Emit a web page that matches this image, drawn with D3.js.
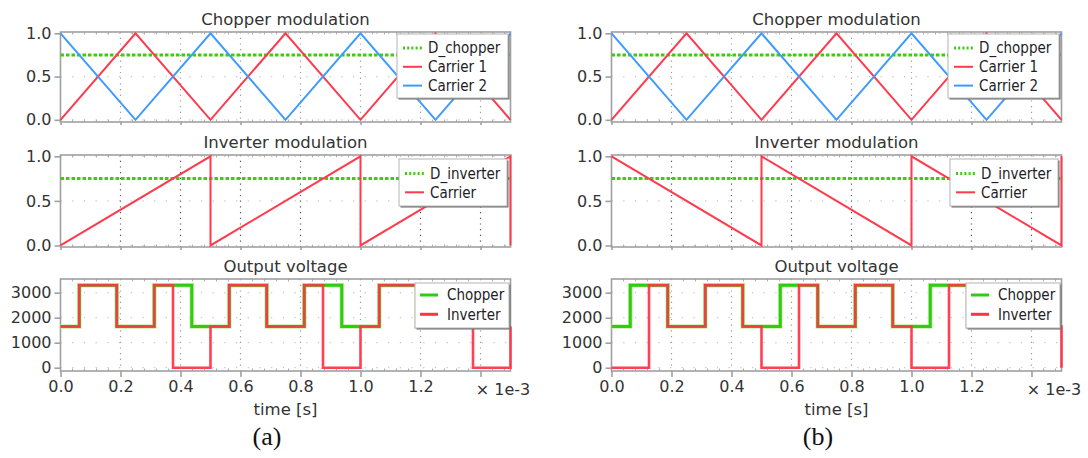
<!DOCTYPE html>
<html><head><meta charset="utf-8">
<script src="https://cdn.jsdelivr.net/npm/d3@7"></script>
<style>
body{margin:0;background:#fff;}
svg{display:block;font-family:'DejaVu Sans',sans-serif;}
</style></head><body>
<svg id="chart" width="1088" height="458"></svg>
<script>
// ---- axis ticks (time in units of 1e-3 s) ----
const timeTicks = [0, 0.2, 0.4, 0.6, 0.8, 1.0, 1.2, 1.4];
const timeTickLabels = ["0.0", "0.2", "0.4", "0.6", "0.8", "1.0", "1.2", ""];
const modTicks = [0, 0.5, 1.0];
const modTickLabels = ["0.0", "0.5", "1.0"];
const voltTicks = [0, 1000, 2000, 3000];
const voltTickLabels = ["0", "1000", "2000", "3000"];

// ---- chopper modulation (identical in both cases) ----
const dChopper = 0.75;
const carrier1T = [0, 0.25, 0.5, 0.75, 1.0, 1.25, 1.5];
const carrier1V = [0, 1, 0, 1, 0, 1, 0];
const carrier2T = [0, 0.25, 0.5, 0.75, 1.0, 1.25, 1.5];
const carrier2V = [1, 0, 1, 0, 1, 0, 1];

// ---- inverter modulation ----
const dInverter = 0.75;
const invCarrierT_a = [0, 0.5, 0.5, 1.0, 1.0, 1.5, 1.5];
const invCarrierV_a = [0, 1, 0, 1, 0, 1, 0];
const invCarrierT_b = [0, 0.5, 0.5, 1.0, 1.0, 1.5, 1.5];
const invCarrierV_b = [1, 0, 1, 0, 1, 0, 1];

// ---- output voltage (each level holds until the next time) ----
const chopperOutT = [0, 0.0625, 0.1875, 0.3125, 0.4375, 0.5625, 0.6875, 0.8125, 0.9375, 1.0625, 1.1875, 1.3125, 1.4375, 1.5];
const chopperOutV = [1650, 3300, 1650, 3300, 1650, 3300, 1650, 3300, 1650, 3300, 1650, 3300, 1650, 1650];
const inverterOutT_a = [0, 0.0625, 0.1875, 0.3125, 0.375, 0.5, 0.5625, 0.6875, 0.8125, 0.875, 1.0, 1.0625, 1.1875, 1.3125, 1.375, 1.5];
const inverterOutV_a = [1650, 3300, 1650, 3300, 0, 1650, 3300, 1650, 3300, 0, 1650, 3300, 1650, 3300, 0, 1650];
const inverterOutT_b = [0, 0.125, 0.1875, 0.3125, 0.4375, 0.5, 0.625, 0.6875, 0.8125, 0.9375, 1.0, 1.125, 1.1875, 1.3125, 1.4375, 1.5, 1.5];
const inverterOutV_b = [0, 3300, 1650, 3300, 1650, 0, 3300, 1650, 3300, 1650, 0, 3300, 1650, 3300, 1650, 1650, 0];

const panelLabels = ["(a)", "(b)"];

const zip = (t, v) => t.map((d, i) => [d, v[i]]);

const C = {
  red: "#ff3a4c", blue: "#3d9bff", green: "#3ccc10",
  outGreen: "#2fcc12", outRed: "#ff3346",
  frame: "#a0a0a0", text: "#333", grid: "#9a9a9a", gridH: "#c4c4c4"
};
const FS = { title: 16.5, tick: 16, legend: 15, label: 16.5 };
const condensed = "'DejaVu Sans Condensed','DejaVu Sans',sans-serif";

const svg = d3.select("#chart");

const panels = [
  {
    dx: 0,
    invCarrier: zip(invCarrierT_a, invCarrierV_a),
    invOut: zip(inverterOutT_a, inverterOutV_a)
  },
  {
    dx: 551,
    invCarrier: zip(invCarrierT_b, invCarrierV_b),
    invOut: zip(inverterOutT_b, inverterOutV_b)
  }
];

const plotL = 60.5, plotR = 510.5;

function drawPlot(g, x, cfg) {
  const y = d3.scaleLinear().domain(cfg.domain).range([cfg.bottom, cfg.top]);
  const p = g.append("g");

  // title
  p.append("text").attr("x", (plotL + plotR) / 2).attr("y", cfg.titleY)
    .attr("text-anchor", "middle").attr("font-size", FS.title).attr("fill", "#333")
    .text(cfg.title);

  // white plot background
  p.append("rect").attr("x", plotL).attr("y", cfg.top)
    .attr("width", plotR - plotL).attr("height", cfg.bottom - cfg.top).attr("fill", "#fff");

  // dotted grid
  const grid = p.append("g");
  grid.selectAll(".gv").data(timeTicks.slice(1)).join("line")
    .attr("x1", d => x(d)).attr("x2", d => x(d))
    .attr("y1", cfg.top).attr("y2", cfg.bottom)
    .attr("stroke", cfg.vGrid).attr("stroke-width", 1.2).attr("stroke-dasharray", "1.2,4.5");
  grid.selectAll(".gh").data(cfg.ticks.slice(0)).join("line")
    .attr("x1", plotL).attr("x2", plotR)
    .attr("y1", d => y(d)).attr("y2", d => y(d))
    .attr("stroke", C.gridH).attr("stroke-width", 1.2).attr("stroke-dasharray", "1.2,10.5");

  // minor ticks along top and bottom edges
  const minor = d3.range(0, 1.5001, 0.04).filter(v => timeTicks.every(t => Math.abs(t - v) > 1e-6));
  grid.selectAll(".mt").data(minor).join("line")
    .attr("x1", d => x(d)).attr("x2", d => x(d))
    .attr("y1", cfg.top).attr("y2", cfg.top + 2.5)
    .attr("stroke", "#b0b0b0").attr("stroke-width", 1);
  grid.selectAll(".mb").data(minor).join("line")
    .attr("x1", d => x(d)).attr("x2", d => x(d))
    .attr("y1", cfg.bottom).attr("y2", cfg.bottom - 2.5)
    .attr("stroke", "#b0b0b0").attr("stroke-width", 1);

  // frame
  p.append("rect").attr("x", plotL).attr("y", cfg.top)
    .attr("width", plotR - plotL).attr("height", cfg.bottom - cfg.top)
    .attr("fill", "none").attr("stroke", C.frame).attr("stroke-width", 1.6);

  // y axis
  const ya = p.append("g").attr("transform", `translate(${plotL},0)`)
    .call(d3.axisLeft(y).tickValues(cfg.ticks).tickSize(6).tickPadding(3)
      .tickFormat((d, i) => cfg.tickLabels[i]));
  ya.select(".domain").remove();
  ya.selectAll(".tick line").attr("stroke", C.frame).attr("stroke-width", 1.6);
  ya.selectAll(".tick text").attr("font-size", FS.tick).attr("fill", C.text)
    .attr("font-family", "'DejaVu Sans',sans-serif");

  // x axis ticks (labels only on the bottom plot)
  const xa = p.append("g").attr("transform", `translate(0,${cfg.bottom})`)
    .call(d3.axisBottom(x).tickValues(timeTicks).tickSize(cfg.xLabels ? 6 : 3).tickPadding(4)
      .tickFormat((d, i) => cfg.xLabels ? timeTickLabels[i] : ""));
  xa.select(".domain").remove();
  xa.selectAll(".tick line").attr("stroke", C.frame).attr("stroke-width", 1.6);
  xa.selectAll(".tick text").attr("font-size", FS.tick).attr("fill", C.text)
    .attr("font-family", "'DejaVu Sans',sans-serif");

  return { p, y };
}

function drawLegend(g, box, items) {
  const lg = g.append("g");
  lg.append("rect").attr("x", box.x + 1.5).attr("y", box.y + 1.5)
    .attr("width", box.w).attr("height", box.h).attr("fill", "#6a6a6a");
  lg.append("rect").attr("x", box.x).attr("y", box.y)
    .attr("width", box.w).attr("height", box.h)
    .attr("fill", "#fff").attr("stroke", "#b4b4b4").attr("stroke-width", 1);
  items.forEach((it, i) => {
    const cy = box.y + box.first + i * box.step;
    lg.append("line").attr("x1", box.x + box.s0).attr("x2", box.x + box.s1)
      .attr("y1", cy).attr("y2", cy)
      .attr("stroke", it.color).attr("stroke-width", it.width)
      .attr("stroke-dasharray", it.dash || null);
    lg.append("text").attr("x", box.x + box.tx).attr("y", cy)
      .attr("dy", "0.35em").attr("font-size", FS.legend).attr("fill", "#1e1e28")
      .attr("font-family", condensed)
      .text(it.label);
  });
}

panels.forEach((pn, pi) => {
  const g = svg.append("g").attr("transform", `translate(${pn.dx},0)`);
  const x = d3.scaleLinear().domain([0, 1.5]).range([plotL, plotR]);
  const line = d3.line().x(d => x(d[0]));

  // ---- Chopper modulation ----
  const a = drawPlot(g, x, {
    title: "Chopper modulation", titleY: 25, top: 32, bottom: 122,
    domain: [-0.025, 1.015], ticks: modTicks, tickLabels: modTickLabels,
    vGrid: C.grid, xLabels: false
  });
  a.p.append("path").datum([[0, dChopper], [1.5, dChopper]])
    .attr("d", line.y(d => a.y(d[1]))).attr("fill", "none")
    .attr("stroke", C.green).attr("stroke-width", 3).attr("stroke-dasharray", "3.5,2");
  a.p.append("path").datum(zip(carrier1T, carrier1V))
    .attr("d", line.y(d => a.y(d[1]))).attr("fill", "none")
    .attr("stroke", C.red).attr("stroke-width", 2);
  a.p.append("path").datum(zip(carrier2T, carrier2V))
    .attr("d", line.y(d => a.y(d[1]))).attr("fill", "none")
    .attr("stroke", C.blue).attr("stroke-width", 2);
  drawLegend(a.p, { x: 397, y: 34, w: 111, h: 64, first: 14, step: 18.8, s0: 6, s1: 25, tx: 31 }, [
    { label: "D_chopper", color: C.green, width: 3, dash: "2,2.2" },
    { label: "Carrier 1", color: C.red, width: 2 },
    { label: "Carrier 2", color: C.blue, width: 2 }
  ]);

  // ---- Inverter modulation ----
  const b = drawPlot(g, x, {
    title: "Inverter modulation", titleY: 148, top: 155, bottom: 247,
    domain: [-0.017, 1.015], ticks: modTicks, tickLabels: modTickLabels,
    vGrid: "#555", xLabels: false
  });
  b.p.append("path").datum([[0, dInverter], [1.5, dInverter]])
    .attr("d", line.y(d => b.y(d[1]))).attr("fill", "none")
    .attr("stroke", C.green).attr("stroke-width", 3).attr("stroke-dasharray", "3.5,2");
  b.p.append("path").datum(pn.invCarrier)
    .attr("d", line.y(d => b.y(d[1]))).attr("fill", "none")
    .attr("stroke", C.red).attr("stroke-width", 2);
  drawLegend(b.p, { x: 399, y: 159, w: 108, h: 47, first: 14.5, step: 18.8, s0: 6, s1: 25, tx: 31 }, [
    { label: "D_inverter", color: C.green, width: 3, dash: "2,2.2" },
    { label: "Carrier", color: C.red, width: 2 }
  ]);

  // ---- Output voltage ----
  const c = drawPlot(g, x, {
    title: "Output voltage", titleY: 272, top: 279, bottom: 371,
    domain: [-132, 3548], ticks: voltTicks, tickLabels: voltTickLabels,
    vGrid: C.grid, xLabels: true
  });
  const step = d3.line().x(d => x(d[0])).y(d => c.y(d[1])).curve(d3.curveStepAfter);
  const chop = zip(chopperOutT, chopperOutV);
  c.p.append("path").datum(chop).attr("d", step).attr("fill", "none")
    .attr("stroke", "#c4f0a8").attr("stroke-width", 4.6);
  c.p.append("path").datum(chop).attr("d", step).attr("fill", "none")
    .attr("stroke", C.outGreen).attr("stroke-width", 3);
  c.p.append("path").datum(pn.invOut).attr("d", step).attr("fill", "none")
    .attr("stroke", C.outRed).attr("stroke-opacity", 0.93).attr("stroke-width", 2.6);
  drawLegend(c.p, { x: 415, y: 283, w: 94, h: 45, first: 12, step: 19.3, s0: 5, s1: 23, tx: 32 }, [
    { label: "Chopper", color: C.outGreen, width: 3 },
    { label: "Inverter", color: C.outRed, width: 3 }
  ]);

  // exponent marker, axis title and panel label
  g.append("text").attr("x", 503).attr("y", 395).attr("text-anchor", "middle")
    .attr("font-size", FS.tick).attr("fill", C.text).text("× 1e-3");
  g.append("text").attr("x", 285.5).attr("y", 415).attr("text-anchor", "middle")
    .attr("font-size", FS.label).attr("fill", C.text).text("time [s]");
  g.append("text").attr("x", 267).attr("y", 445).attr("text-anchor", "middle")
    .attr("font-family", "'Liberation Serif','Times New Roman',serif")
    .attr("font-size", 26).attr("fill", "#111").text(panelLabels[pi]);
});
</script>
</body></html>
